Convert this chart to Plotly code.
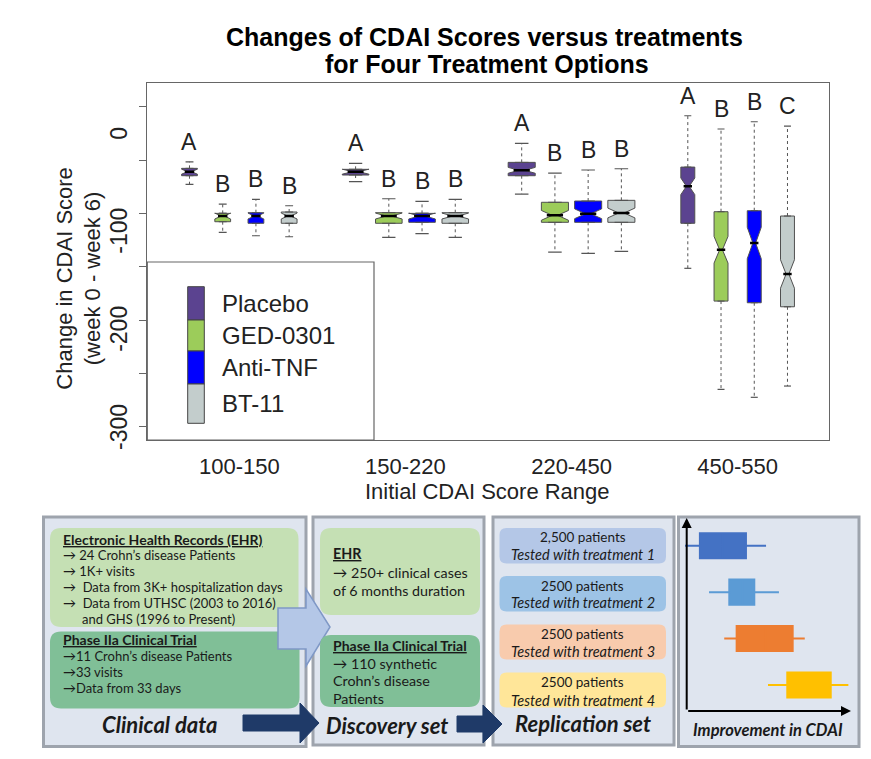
import plotly.graph_objects as go

# page body has an 8px margin, so the figure is drawn at (8,8) with this size
OFF = 8
W, H = 871 - 2 * OFF, 759 - 2 * OFF


def px(x):
    return (x - OFF) / W


def py(y):
    return 1 - (y - OFF) / H


# ---------------- data ----------------
groups = ['100-150', '150-220', '220-450', '450-550']
treatments = ['Placebo', 'GED-0301', 'Anti-TNF', 'BT-11']

lower_whisker = {
    'Placebo':  [-52.2, -49.5, -62.1, -137.8],
    'GED-0301': [-101.1, -106.2, -121.2, -261.2],
    'Anti-TNF': [-104.6, -102.5, -122.5, -269.3],
    'BT-11':    [-105.6, -106.2, -120.5, -257.8]}
q1 = {
    'Placebo':  [-43.4, -42.7, -43.4, -91.9],
    'GED-0301': [-90.3, -91.9, -90.9, -171.2],
    'Anti-TNF': [-91.9, -90.9, -90.9, -172.9],
    'BT-11':    [-91.9, -91.9, -90.9, -177.0]}
median = {
    'Placebo':  [-39.3, -39.3, -37.9, -54.2],
    'GED-0301': [-84.5, -84.5, -83.8, -118.9],
    'Anti-TNF': [-84.5, -84.5, -82.2, -112.0],
    'BT-11':    [-84.5, -84.5, -81.4, -143.6]}
q3 = {
    'Placebo':  [-35.9, -36.9, -29.8, -34.6],
    'GED-0301': [-81.8, -81.1, -70.5, -80.1],
    'Anti-TNF': [-81.1, -81.8, -69.2, -79.1],
    'BT-11':    [-80.4, -81.1, -68.5, -84.5]}
upper_whisker = {
    'Placebo':  [-29.2, -30.8, -10.4, 17.7],
    'GED-0301': [-72.3, -66.9, -40.7, 4.2],
    'Anti-TNF': [-67.5, -69.5, -37.6, 11.6],
    'BT-11':    [-74.0, -67.5, -36.3, 7.2]}
notch = {
    'Placebo':  [2.5, 2.5, 3.0, 8.5],
    'GED-0301': [3.0, 3.0, 5.0, 13.6],
    'Anti-TNF': [3.0, 3.0, 5.0, 16.0],
    'BT-11':    [3.0, 3.0, 5.0, 14.5]}
letters = {
    'Placebo':  ['A', 'A', 'A', 'A'],
    'GED-0301': ['B', 'B', 'B', 'B'],
    'Anti-TNF': ['B', 'B', 'B', 'B'],
    'BT-11':    ['B', 'B', 'B', 'C']}
y_ticks = [0, -100, -200, -300]
y_minor_ticks = [26.9, -27.4, -81.8, -136.2, -190.5, -244.9, -299.3]

replication_counts = ['2,500 patients', '2500 patients', '2500 patients', '2500 patients']
replication_tests = ['Tested with treatment 1', 'Tested with treatment 2',
                     'Tested with treatment 3', 'Tested with treatment 4']

schem_names = ['Treatment 1', 'Treatment 2', 'Treatment 3', 'Treatment 4']
schem_low = [-1, 13.7, 23.0, 49.8]
schem_q1 = [8.1, 26.1, 30.6, 61.6]
schem_med = [22.0, 34.0, 48.0, 75.0]
schem_q3 = [36.3, 41.4, 64.9, 88.2]
schem_high = [48.6, 56.5, 72.3, 99.0]

# ---------------- styles ----------------
colors = {'Placebo': '#5b4390', 'GED-0301': '#9ccc5a', 'Anti-TNF': '#0000ff', 'BT-11': '#c3cdcc'}
offsets = [-0.3, -0.1, 0.1, 0.3]
box_widths = [0.095, 0.16, 0.163, 0.084]
notch_w = 0.4
schem_colors = ['#4472c4', '#5b9bd5', '#ed7d31', '#ffc000']
MAIN_FONT = 'Liberation Sans, Arial, sans-serif'
FLOW_FONT = 'Lato, Open Sans, sans-serif'
TXT = '#1a1a1a'

fig = go.Figure()

wx, wy, cx, cy, mx, my = [], [], [], [], [], []
annotations = []
for i, t in enumerate(treatments):
    for g in range(len(groups)):
        xpos = g + offsets[i]
        w = box_widths[g]
        fig.add_trace(go.Box(
            x=[xpos], q1=[q1[t][g]], median=[median[t][g]], q3=[q3[t][g]],
            lowerfence=[q1[t][g]], upperfence=[q3[t][g]],
            notched=True, notchspan=[notch[t][g]], notchwidth=notch_w,
            width=w, fillcolor=colors[t], line=dict(color='#505050', width=1),
            boxpoints=False, showlegend=False, hoverinfo='skip',
            xaxis='x', yaxis='y'))
        cw = w * 0.25
        wx += [xpos, xpos, None, xpos, xpos, None]
        wy += [q3[t][g], upper_whisker[t][g], None, q1[t][g], lower_whisker[t][g], None]
        cx += [xpos - cw, xpos + cw, None, xpos - cw, xpos + cw, None]
        cy += [upper_whisker[t][g], upper_whisker[t][g], None,
               lower_whisker[t][g], lower_whisker[t][g], None]
        hm = w / 2 * (1 - notch_w)
        mx += [xpos - hm, xpos + hm, None]
        my += [median[t][g], median[t][g], None]
        annotations.append(dict(
            x=xpos, y=upper_whisker[t][g], xref='x', yref='y', text=letters[t][g],
            showarrow=False, yshift=20, yanchor='middle',
            font=dict(family=MAIN_FONT, size=23, color='#222')))

fig.add_trace(go.Scatter(x=wx, y=wy, mode='lines', line=dict(color='#555', width=1, dash='3px,3px'),
                         showlegend=False, hoverinfo='skip'))
fig.add_trace(go.Scatter(x=cx, y=cy, mode='lines', line=dict(color='#555', width=1.2),
                         showlegend=False, hoverinfo='skip'))
fig.add_trace(go.Scatter(x=mx, y=my, mode='lines', line=dict(color='black', width=2.5),
                         showlegend=False, hoverinfo='skip'))

# y tick labels (rotated, centred on their values)
for v in y_ticks:
    annotations.append(dict(x=px(119.5), y=v, xref='paper', yref='y', text=str(v),
                            textangle=-90, showarrow=False, xanchor='center', yanchor='middle',
                            font=dict(family=MAIN_FONT, size=23, color='#222')))

# schematic boxes (panel 4)
for k in range(len(schem_names)):
    fig.add_trace(go.Box(
        y=[schem_names[k]], q1=[schem_q1[k]], median=[schem_med[k]], q3=[schem_q3[k]],
        lowerfence=[schem_low[k]], upperfence=[schem_high[k]], orientation='h',
        width=0.54, fillcolor=schem_colors[k], line=dict(color=schem_colors[k], width=2),
        whiskerwidth=0, boxpoints=False, showlegend=False, hoverinfo='skip',
        xaxis='x2', yaxis='y2'))

# ---------------- shapes ----------------
shapes = []


def rrect(x0, y0, x1, y1, r, fill, line='rgba(0,0,0,0)', lw=0):
    rx, ry = r / W, r / H
    X0, X1, Y0, Y1 = px(x0), px(x1), py(y0), py(y1)
    p = (f'M {X0+rx},{Y0} L {X1-rx},{Y0} Q {X1},{Y0} {X1},{Y0-ry} '
         f'L {X1},{Y1+ry} Q {X1},{Y1} {X1-rx},{Y1} L {X0+rx},{Y1} '
         f'Q {X0},{Y1} {X0},{Y1+ry} L {X0},{Y0-ry} Q {X0},{Y0} {X0+rx},{Y0} Z')
    shapes.append(dict(type='path', xref='paper', yref='paper', path=p,
                       fillcolor=fill, line=dict(color=line, width=lw), layer='below'))


def rect(x0, y0, x1, y1, fill, line, lw):
    shapes.append(dict(type='rect', xref='paper', yref='paper', x0=px(x0), x1=px(x1),
                       y0=py(y1), y1=py(y0), fillcolor=fill,
                       line=dict(color=line, width=lw), layer='below'))


def poly(pts, fill, line, lw):
    p = 'M ' + ' L '.join(f'{px(a)},{py(b)}' for a, b in pts) + ' Z'
    shapes.append(dict(type='path', xref='paper', yref='paper', path=p, fillcolor=fill,
                       line=dict(color=line, width=lw), layer='below'))


# legend box
rect(147.3, 262, 374, 440, 'white', '#666', 1.2)
seg = [286.7, 320, 351, 384, 423.3]
for i, t in enumerate(treatments):
    rect(187.7, seg[i], 204.3, seg[i + 1], colors[t], '#444', 1)

# flowchart panels
for (x0, y0, x1, y1) in [(43.5, 517, 306, 746.5), (313, 517, 484, 745),
                         (493, 517, 674, 745), (678.5, 517, 859, 746.5)]:
    rect(x0, y0, x1, y1, '#dfe5ef', '#9ea4ad', 3)

# panel 1 boxes
rrect(50, 528, 298.5, 627, 11, '#c5e0b4')
rrect(50, 631.5, 299.5, 708.5, 11, '#80bf97')
# light blue arrow between panels 1 and 2
poly([(278, 608), (306, 608), (306, 589), (330, 627), (306, 666), (306, 649), (278, 649)],
     '#b4c7e7', '#7f98c6', 1.5)
# panel 2 boxes
rrect(320, 528, 480, 615, 11, '#c5e0b4')
rrect(320, 635, 480, 707, 11, '#80bf97')
# panel 3 boxes
for (y0, y1), c in zip([(528, 563.5), (576, 611.5), (624.5, 659.5), (672.5, 707.5)],
                       ['#b4c7e7', '#9dc3e6', '#f8cbad', '#ffe699']):
    rrect(499.5, y0, 666, y1, 7, c)
# navy arrows
poly([(243, 715), (300, 715), (300, 703), (319, 723), (300, 743), (300, 731), (243, 731)],
     '#1f3a68', '#1f3a68', 1)
poly([(457, 716), (483, 716), (483, 705), (502, 724), (483, 743), (483, 732), (457, 732)],
     '#1f3a68', '#1f3a68', 1)

# ---------------- text ----------------


def txt(x, y, s, size, anchor='left', family=FLOW_FONT, color=TXT):
    annotations.append(dict(x=px(x), y=py(y), xref='paper', yref='paper', text=s,
                            showarrow=False, xanchor=anchor, yanchor='middle',
                            font=dict(family=family, size=size, color=color)))


# titles
txt(484, 37, '<b>Changes of CDAI Scores versus treatments</b>', 25, 'center', MAIN_FONT, 'black')
txt(487, 64, '<b>for Four Treatment Options</b>', 25, 'center', MAIN_FONT, 'black')
txt(487, 491, 'Initial CDAI Score Range', 22, 'center', MAIN_FONT, '#222')
annotations.append(dict(x=px(78.7), y=py(278), xref='paper', yref='paper',
                        text='Change in CDAI Score<br>(week 0 - week 6)', textangle=-90,
                        showarrow=False, xanchor='center', yanchor='middle',
                        font=dict(family=MAIN_FONT, size=22, color='#222')))
# legend labels
for i, t in enumerate(treatments):
    txt(220, (seg[i] + seg[i + 1]) / 2, t, 24, 'left', MAIN_FONT, '#222')

# panel 1
fs1 = 13
fh = 14
txt(61, 539.3, '<b><u>Electronic Health Records (EHR)</u></b>', fh)
txt(61, 555, '→ 24 Crohn’s disease Patients', fs1)
txt(61, 571, '→ 1K+ visits', fs1)
txt(61, 587, '→\u00a0 Data from 3K+ hospitalization days', fs1)
txt(61, 603, '→\u00a0 Data from UTHSC (2003 to 2016)', fs1)
txt(80, 618.5, 'and GHS (1996 to Present)', fs1)
txt(61, 639.3, '<b><u>Phase IIa Clinical Trial</u></b>', fh)
txt(61, 656, '→11 Crohn’s disease Patients', fs1)
txt(61, 672.3, '→33 visits', fs1)
txt(61, 688.3, '→Data from 33 days', fs1)
txt(160, 724, '<b><i>Clinical data</i></b>', 22, 'center')
# panel 2
fs2 = 14.3
txt(331, 553.3, '<b><u>EHR</u></b>', fs2)
txt(331, 572.3, '→ 250+ clinical cases', fs2)
txt(331, 590, 'of 6 months duration', fs2)
txt(331, 645, '<b><u>Phase IIa Clinical Trial</u></b>', fh)
txt(331, 663.3, '→ 110 synthetic', fs2)
txt(331, 680.7, 'Crohn’s disease', fs2)
txt(331, 698.3, 'Patients', fs2)
txt(386.7, 725, '<b><i>Discovery set</i></b>', 22, 'center')
# panel 3
for k, (a, b) in enumerate([(536.7, 554.3), (585.7, 602.7), (634, 651), (682.3, 700)]):
    txt(582.7, a, replication_counts[k], 13.5, 'center')
    txt(582.7, b, '<i>' + replication_tests[k] + '</i>', 14.5, 'center')
txt(583.3, 723.5, '<b><i>Replication set</i></b>', 22, 'center')
# panel 4
txt(768, 730, '<b><i>Improvement in CDAI</i></b>', 16.5, 'center')
annotations.append(dict(x=px(686.7), y=py(518), xref='paper', yref='paper', ax=0, ay=193,
                        text='', showarrow=True, arrowhead=2, arrowsize=1, arrowwidth=2,
                        arrowcolor='black'))
annotations.append(dict(x=px(851), y=py(711), xref='paper', yref='paper', ax=-164.3, ay=0,
                        text='', showarrow=True, arrowhead=2, arrowsize=1, arrowwidth=2,
                        arrowcolor='black'))

fig.update_layout(
    width=W, height=H, margin=dict(l=0, r=0, t=0, b=0),
    paper_bgcolor='white', plot_bgcolor='rgba(0,0,0,0)',
    showlegend=False,
    xaxis=dict(domain=[px(147.3), px(829)], range=[-0.554, 3.55],
               tickmode='array', tickvals=list(range(len(groups))), ticktext=groups,
               ticks='', tickfont=dict(family=MAIN_FONT, size=22, color='#222'),
               ticklabelstandoff=6,
               showgrid=False, zeroline=False, showline=True, mirror=True,
               linecolor='#666', linewidth=1.3, automargin=False),
    yaxis=dict(domain=[py(440), py(83)], range=[-312.8, 51.1],
               tickmode='array', tickvals=y_ticks, showticklabels=False, ticks='',
               minor=dict(tickmode='array', tickvals=y_minor_ticks,
                          ticks='outside', ticklen=7, tickcolor='#666', tickwidth=1.2),
               showgrid=False, zeroline=False, showline=True, mirror=True,
               linecolor='#666', linewidth=1.3, automargin=False),
    xaxis2=dict(domain=[px(683.4), px(850)], range=[-2, 100], visible=False,
                fixedrange=True, anchor='y2'),
    yaxis2=dict(domain=[py(711), py(518)], range=[3.56, -0.597], visible=False,
                type='category', categoryorder='array', categoryarray=schem_names,
                fixedrange=True, anchor='x2'),
    shapes=shapes,
    annotations=annotations,
)

fig.write_html('out.html')
